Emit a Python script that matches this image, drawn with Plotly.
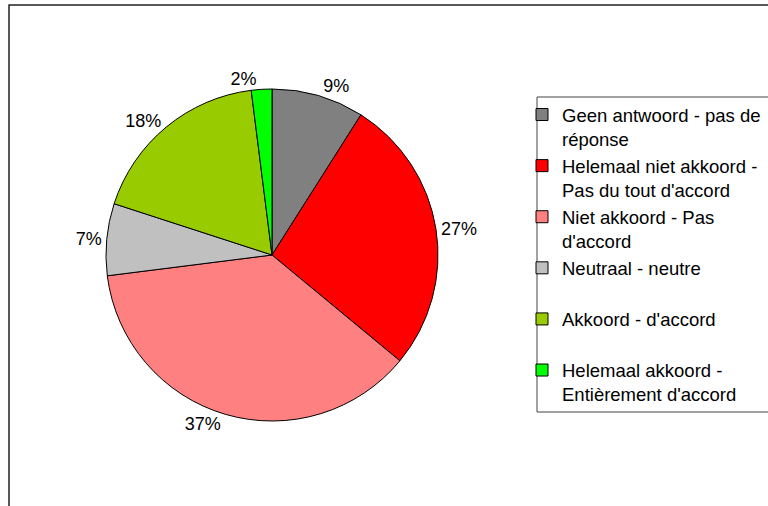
import plotly.graph_objects as go

labels = [
    "Geen antwoord - pas de<br>réponse",
    "Helemaal niet akkoord -<br>Pas du tout d'accord",
    "Niet akkoord - Pas<br>d'accord",
    "Neutraal - neutre<br> ",
    "Akkoord - d'accord<br> ",
    "Helemaal akkoord -<br>Entièrement d'accord",
]
values = [9, 27, 37, 7, 18, 2]
colors = ["#808080", "#FF0000", "#FF8080", "#C0C0C0", "#99CC00", "#00FF00"]

W, H = 768, 506
FONT = "Liberation Sans, Arial, sans-serif"

fig = go.Figure(
    go.Pie(
        labels=labels,
        values=values,
        sort=False,
        direction="clockwise",
        rotation=0,
        marker=dict(colors=colors, line=dict(color="black", width=1)),
        textposition="outside",
        texttemplate="%{percent:.0%}",
        textfont=dict(family=FONT, size=18, color="black"),
        hoverinfo="label+percent",
        domain=dict(x=[106 / W, 438 / W], y=[1 - 421 / H, 1 - 89 / H]),
        automargin=False,
    )
)

fig.update_layout(
    width=W,
    height=H,
    margin=dict(l=0, r=0, t=0, b=0, autoexpand=False),
    paper_bgcolor="white",
    plot_bgcolor="white",
    font=dict(family=FONT, size=18, color="black"),
    showlegend=True,
    legend=dict(
        x=(563 - 41) / W,
        xanchor="left",
        y=1 - 96 / H,
        yanchor="top",
        valign="top",
        bgcolor="rgba(0,0,0,0)",
        borderwidth=0,
        font=dict(family=FONT, size=18.5, color="black"),
        traceorder="normal",
    ),
    shapes=[
        dict(type="rect", xref="paper", yref="paper",
             x0=9 / W, x1=1.05, y0=-0.05, y1=1 - 5 / H,
             line=dict(color="#222222", width=1.5), fillcolor="rgba(0,0,0,0)"),
        dict(type="rect", xref="paper", yref="paper",
             x0=537 / W, x1=1.05, y0=1 - 412 / H, y1=1 - 97 / H,
             line=dict(color="#444444", width=1), fillcolor="rgba(0,0,0,0)"),
    ],
)

fig.write_html(
    "out.html",
    config={"displayModeBar": False},
    post_script="document.body.style.margin='0';document.body.style.overflow='hidden';",
)
